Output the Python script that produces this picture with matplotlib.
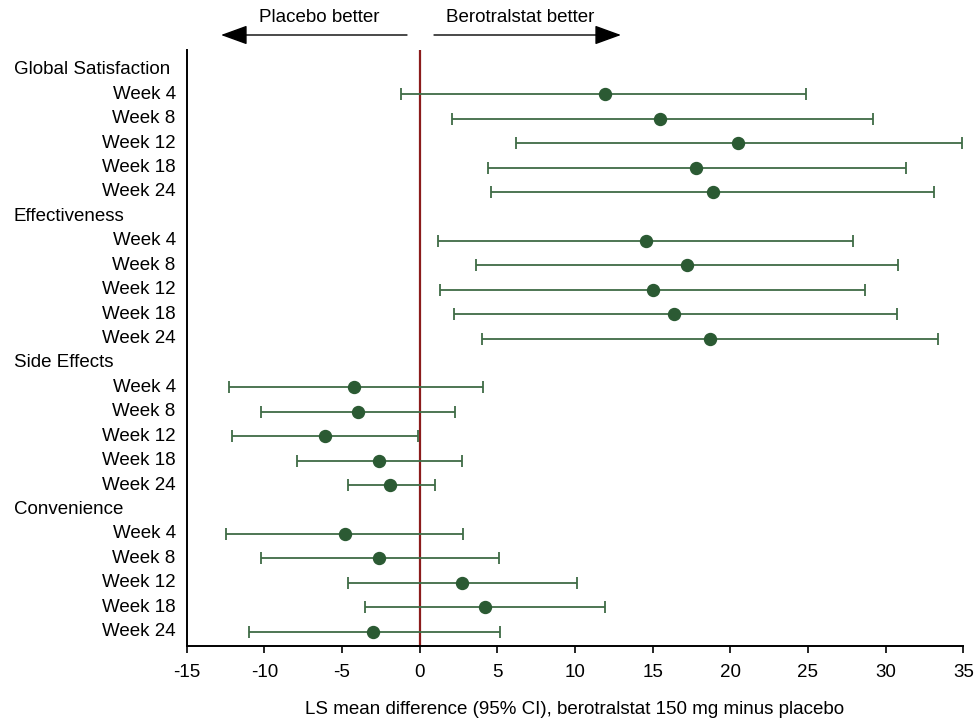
import matplotlib
matplotlib.use("Agg")
import matplotlib.pyplot as plt
from matplotlib.patches import FancyArrowPatch

plt.rcParams['font.family'] = ['Liberation Sans', 'DejaVu Sans']

domains = ["Global Satisfaction", "Effectiveness", "Side Effects", "Convenience"]
weeks = ["Week 4", "Week 8", "Week 12", "Week 18", "Week 24"]

est = {
    "Global Satisfaction": [11.9, 15.5, 20.5, 17.8, 18.9],
    "Effectiveness":       [14.6, 17.2, 15.0, 16.4, 18.7],
    "Side Effects":        [-4.2, -4.0, -6.1, -2.6, -1.9],
    "Convenience":         [-4.8, -2.6, 2.7, 4.2, -3.0],
}
lower = {
    "Global Satisfaction": [-1.2, 2.1, 6.2, 4.4, 4.6],
    "Effectiveness":       [1.2, 3.6, 1.3, 2.2, 4.0],
    "Side Effects":        [-12.3, -10.2, -12.1, -7.9, -4.6],
    "Convenience":         [-12.5, -10.2, -4.6, -3.5, -11.0],
}
upper = {
    "Global Satisfaction": [24.9, 29.2, 34.9, 31.3, 33.1],
    "Effectiveness":       [27.9, 30.8, 28.7, 30.7, 33.4],
    "Side Effects":        [4.1, 2.3, -0.1, 2.7, 1.0],
    "Convenience":         [2.8, 5.1, 10.1, 11.9, 5.2],
}
xticks = [-15, -10, -5, 0, 5, 10, 15, 20, 25, 30, 35]

FS = 13.5
W, H = 977, 726
fig = plt.figure(figsize=(W / 100, H / 100), dpi=100)
ax = fig.add_axes([186.7 / W, 1 - 646 / H, (963.3 - 186.7) / W, (646 - 50) / H])

marker_col = "#2b5a33"
line_col = "#3f6b45"

row = 0
for d in domains:
    ax.text(-0.2228, row, d, transform=ax.get_yaxis_transform(), ha="left", va="center", fontsize=FS)
    row += 1
    for i, w in enumerate(weeks):
        e, lo, hi = est[d][i], lower[d][i], upper[d][i]
        ax.errorbar([e], [row], xerr=[[e - lo], [hi - e]], fmt="o", color=marker_col,
                    ecolor=line_col, elinewidth=1.3, capsize=4, capthick=1.3, markersize=8.6, zorder=3)
        ax.text(-0.0142, row, w, transform=ax.get_yaxis_transform(), ha="right", va="center", fontsize=FS)
        row += 1

ax.axvline(0, color="#8b1c1c", lw=1.6, zorder=2)

ax.set_xlim(-15, 35)
ax.set_ylim(23.585, -0.81)
ax.set_xticks(xticks)
ax.set_xticklabels([str(t) for t in xticks], fontsize=FS)
ax.set_yticks([])
for s in ["top", "right"]:
    ax.spines[s].set_visible(False)
ax.spines["left"].set_linewidth(1.4)
ax.spines["bottom"].set_linewidth(1.4)
ax.tick_params(axis="x", direction="out", length=5, width=1.2, pad=8)
ax.set_xlabel("LS mean difference (95% CI), berotralstat 150 mg minus placebo", fontsize=FS)
ax.xaxis.set_label_coords((575 - 186.7) / (963.3 - 186.7), -(710 - 646) / (646 - 50))
ax.xaxis.label.set_va("center")

def fx(px):
    return px / W

def fy(py):
    return 1 - py / H

for x0, x1 in [(407, 221), (434, 621)]:
    fig.patches.append(FancyArrowPatch((fx(x0), fy(35)), (fx(x1), fy(35)),
                       transform=fig.transFigure, arrowstyle="-|>,head_length=11,head_width=4",
                       color="black", lw=1.0, mutation_scale=1.5, shrinkA=0, shrinkB=0))
fig.text(fx(319), fy(18), "Placebo better", ha="center", va="center", fontsize=FS)
fig.text(fx(520), fy(18), "Berotralstat better", ha="center", va="center", fontsize=FS)

fig.savefig("out.png", dpi=100)
